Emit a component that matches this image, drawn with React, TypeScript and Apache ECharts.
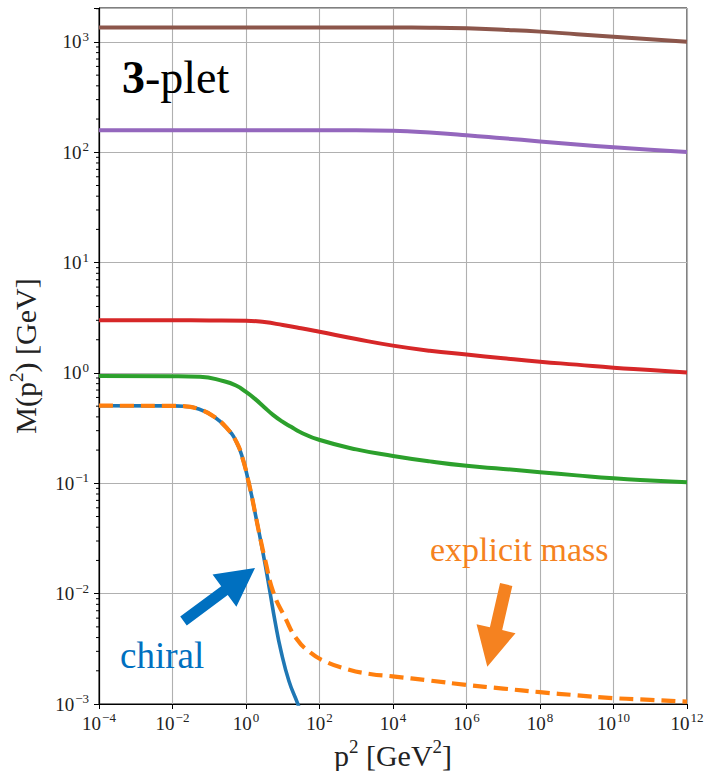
import React, { useEffect, useRef } from 'react';
import * as echarts from 'echarts';

// ---- data (x = p^2 [GeV^2], y = M(p^2) [GeV]) ----
const brownP = [1e-4, 1e2, 1e4, 1e5, 1e6, 1e7, 1e8, 1e9, 1e10, 1e11, 1e12];
const brownM = [1350, 1350, 1349, 1345, 1328, 1288, 1240, 1175, 1112, 1060, 1006];

const purpleP = [1e-4, 1e2, 1e3, 1e4, 1e5, 1e6, 1e7, 1e8, 1e9, 1e10, 1e11, 1e12];
const purpleM = [158, 158, 158, 156.5, 151, 143, 134, 125.5, 117.5, 111, 105.5, 100.6];

const redP = [1e-4, 1e-2, 1e-1, 1, 3.16, 10, 31.6, 100, 1e3, 1e4, 1e5, 1e6, 1e7, 1e8, 1e9, 1e10, 1e11, 1e12];
const redM = [3.0, 3.0, 2.995, 2.98, 2.89, 2.72, 2.54, 2.36, 2.03, 1.77, 1.59, 1.47, 1.36, 1.265, 1.19, 1.117, 1.065, 1.01];

const greenP = [1e-4, 1e-2, 0.056, 0.237, 0.535, 1.0, 1.76, 3.09, 5.43, 9.55, 16.8, 29.4, 97, 1e3, 1e4, 1e5, 1e6, 1e7, 1e8, 1e9, 1e10, 1e11, 1e12];
const greenM = [0.94, 0.935, 0.924, 0.846, 0.77, 0.673, 0.582, 0.492, 0.417, 0.364, 0.325, 0.292, 0.248, 0.203, 0.177, 0.158, 0.144, 0.135, 0.126, 0.118, 0.111, 0.106, 0.102];

const chiralP = [1e-4, 1e-2, 0.0195, 0.056, 0.129, 0.295, 0.56, 0.85, 1.16, 1.43, 1.87, 2.56, 3.5, 4.5, 6.15, 8.96, 14.8, 25.2, 28];
const chiralM = [0.505, 0.503, 0.5, 0.467, 0.406, 0.319, 0.234, 0.159, 0.105, 0.0768, 0.0492, 0.0292, 0.0167, 0.0103, 0.00564, 0.00302, 0.00161, 0.00102, 0.00092];

const explicitP = [1e-4, 1e-2, 0.0195, 0.056, 0.129, 0.295, 0.56, 0.85, 1.16, 1.43, 1.87, 2.56, 3.29, 5.53, 11.5, 24, 55, 127, 550, 2370, 9800, 1e5, 1e6, 1e7, 1e8, 1e9, 1e10, 1e11, 1e12];
const explicitM = [0.505, 0.503, 0.5, 0.467, 0.406, 0.319, 0.234, 0.159, 0.105, 0.0768, 0.0492, 0.0295, 0.0205, 0.0103, 0.0061, 0.00388, 0.00294, 0.00247, 0.00207, 0.00187, 0.00178, 0.00163, 0.00149, 0.00138, 0.00128, 0.0012, 0.00113, 0.00109, 0.00105];

// axis ranges & ticks
const xMin = 1e-4;
const xMax = 1e12;
const xStepDecades = 2;
const yMin = 1e-3;
const yMax = 2030;
const yStepDecades = 1;
const yMinorMultipliers = [2, 3, 4, 5, 6, 7, 8, 9];
const yMinorDecades = [-3, -2, -1, 0, 1, 2, 3];

const SERIF = '"Liberation Serif", "DejaVu Serif", serif';
const TICK_COLOR = '#222';

const zip = (xs: number[], ys: number[]) => xs.map((x, i) => [x, ys[i]]);

function supLabel(v: number): string {
  const l = Math.log10(v);
  const e = Math.round(l);
  if (Math.abs(l - e) > 1e-6) return '';
  const s = e < 0 ? '\u2212' + String(-e) : String(e);
  return `{b|10}{s|${s}}`;
}

function arrowPoints(
  tail: [number, number],
  tip: [number, number],
  shaftHalf: number,
  headHalf: number,
  headLen: number
): number[][] {
  const dx = tip[0] - tail[0];
  const dy = tip[1] - tail[1];
  const len = Math.hypot(dx, dy);
  const ux = dx / len, uy = dy / len;
  const nx = -uy, ny = ux;
  const bx = tip[0] - ux * headLen, by = tip[1] - uy * headLen;
  return [
    [tail[0] + nx * shaftHalf, tail[1] + ny * shaftHalf],
    [bx + nx * shaftHalf, by + ny * shaftHalf],
    [bx + nx * headHalf, by + ny * headHalf],
    [tip[0], tip[1]],
    [bx - nx * headHalf, by - ny * headHalf],
    [bx - nx * shaftHalf, by - ny * shaftHalf],
    [tail[0] - nx * shaftHalf, tail[1] - ny * shaftHalf],
  ];
}

const richTick = {
  b: { fontSize: 19, lineHeight: 24, fontFamily: SERIF, color: TICK_COLOR },
  s: { fontSize: 13, lineHeight: 13, verticalAlign: 'top', fontFamily: SERIF, color: TICK_COLOR, padding: [0, 0, 0, 1] },
};

export default function App() {
  const ref = useRef<HTMLDivElement>(null);

  useEffect(() => {
    if (!ref.current) return;
    const chart = echarts.init(ref.current, undefined, { renderer: 'svg' });

    const minorTicks: number[][] = [];
    yMinorDecades.forEach((e) => {
      yMinorMultipliers.forEach((k) => {
        const v = k * Math.pow(10, e);
        if (v < yMax) minorTicks.push([xMin, v]);
      });
    });

    const lineSeries = (data: number[][], color: string, extra: any = {}) => ({
      type: 'line',
      data,
      showSymbol: false,
      symbol: 'none',
      smooth: 0.5,
      silent: true,
      clip: true,
      lineStyle: { color, width: 4, cap: 'butt', join: 'round', ...(extra.lineStyle || {}) },
      z: extra.z ?? 2,
    });

    const option: any = {
      animation: false,
      backgroundColor: '#fff',
      grid: {
        left: 99,
        right: 19,
        top: 8,
        bottom: 67,
        containLabel: false,
        outerBoundsMode: 'none',
        show: true,
        borderColor: '#000',
        borderWidth: 1,
        backgroundColor: 'transparent',
      },
      xAxis: {
        type: 'log',
        logBase: 10,
        min: xMin,
        max: xMax,
        interval: xStepDecades,
        name: '{n|p}{s|2}{n| [GeV}{s|2}{n|]}',
        nameLocation: 'middle',
        nameGap: 32,
        nameTextStyle: {
          rich: {
            n: { fontSize: 30, lineHeight: 36, fontFamily: SERIF, color: TICK_COLOR },
            s: { fontSize: 19, lineHeight: 19, verticalAlign: 'top', fontFamily: SERIF, color: TICK_COLOR },
          },
        },
        axisLine: { show: true, lineStyle: { color: '#000', width: 1.2 } },
        axisTick: { show: true, length: 5, lineStyle: { color: '#000', width: 1 } },
        minorTick: { show: false },
        axisLabel: { margin: 7, formatter: supLabel, rich: richTick },
        splitLine: { show: true, lineStyle: { color: '#b0b0b0', width: 1.1 } },
      },
      yAxis: {
        type: 'log',
        logBase: 10,
        min: yMin,
        max: yMax,
        interval: yStepDecades,
        name: '{n|M(p}{s|2}{n|) [GeV]}',
        nameLocation: 'middle',
        nameRotate: 90,
        nameGap: 56,
        nameTextStyle: {
          rich: {
            n: { fontSize: 30, lineHeight: 36, fontFamily: SERIF, color: TICK_COLOR },
            s: { fontSize: 19, lineHeight: 19, verticalAlign: 'top', fontFamily: SERIF, color: TICK_COLOR },
          },
        },
        axisLine: { show: true, lineStyle: { color: '#000', width: 1.2 } },
        axisTick: { show: true, length: 5, lineStyle: { color: '#000', width: 1 } },
        minorTick: { show: false },
        axisLabel: { margin: 10, formatter: supLabel, rich: richTick },
        splitLine: { show: true, lineStyle: { color: '#b0b0b0', width: 1.1 } },
      },
      series: [
        lineSeries(zip(brownP, brownM), '#8c564b'),
        lineSeries(zip(purpleP, purpleM), '#9467bd'),
        lineSeries(zip(redP, redM), '#d62728'),
        lineSeries(zip(greenP, greenM), '#2ca02c'),
        lineSeries(zip(chiralP, chiralM), '#1f77b4', { lineStyle: { width: 3.6 }, z: 3 }),
        lineSeries(zip(explicitP, explicitM), '#ff7f0e', {
          lineStyle: { width: 4.2, type: [14, 7] },
          z: 4,
        }),
        {
          type: 'custom',
          silent: true,
          clip: false,
          data: minorTicks,
          encode: { x: 0, y: 1 },
          z: 5,
          renderItem: (_params: any, api: any) => {
            const p = api.coord([xMin, api.value(1)]);
            return {
              type: 'line',
              shape: { x1: p[0] - 3, y1: p[1], x2: p[0], y2: p[1] },
              style: { stroke: '#000', lineWidth: 1 },
            };
          },
        },
      ],
      graphic: [
        {
          type: 'text',
          x: 122,
          y: 77,
          z: 100,
          style: {
            text: '{b|3}{n|-plet}',
            verticalAlign: 'middle',
            align: 'left',
            rich: {
              b: { fontSize: 46, fontWeight: 'bold', fontFamily: SERIF, fill: '#000' },
              n: { fontSize: 46, fontFamily: SERIF, fill: '#000' },
            },
          },
        },
        {
          type: 'text',
          x: 120,
          y: 655,
          z: 100,
          style: {
            text: 'chiral',
            fontSize: 37,
            fontFamily: SERIF,
            fill: '#0070c0',
            verticalAlign: 'middle',
            align: 'left',
          },
        },
        {
          type: 'text',
          x: 430,
          y: 549,
          z: 100,
          style: {
            text: 'explicit mass',
            fontSize: 34,
            fontFamily: SERIF,
            fill: '#f58220',
            verticalAlign: 'middle',
            align: 'left',
          },
        },
        {
          type: 'polygon',
          z: 100,
          shape: { points: arrowPoints([183.5, 621], [255, 568], 5.5, 20, 38) },
          style: { fill: '#0070c0' },
        },
        {
          type: 'polygon',
          z: 100,
          shape: { points: arrowPoints([506.2, 584.5], [487.3, 666.7], 6.3, 20, 39) },
          style: { fill: '#f58220' },
        },
      ],
    };

    chart.setOption(option);
    return () => chart.dispose();
  }, []);

  return (
    <div
      ref={ref}
      style={{ position: 'fixed', left: 0, top: 0, width: 706, height: 771, background: '#fff' }}
    />
  );
}
